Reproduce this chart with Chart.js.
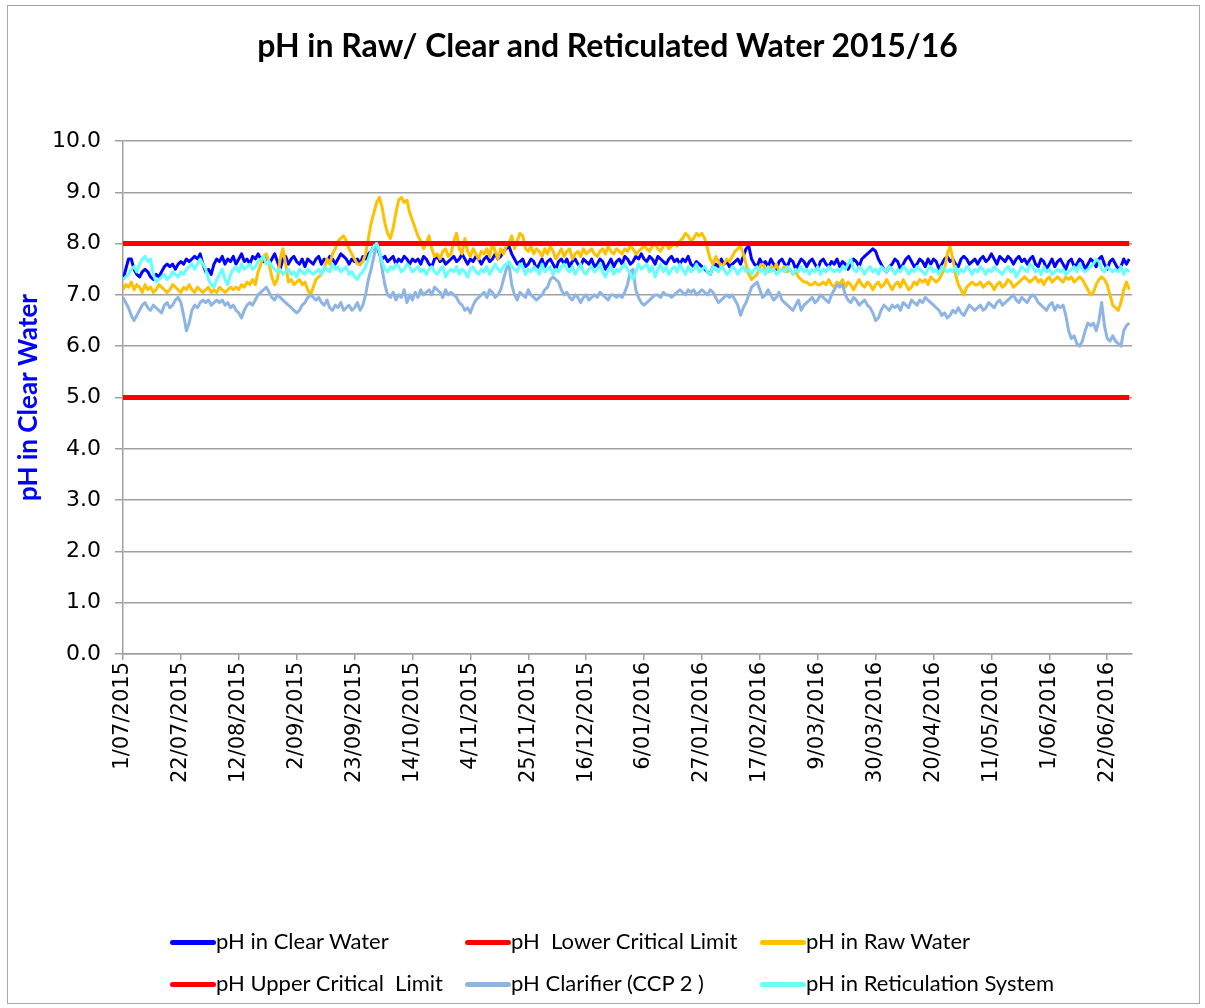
<!DOCTYPE html>
<html>
<head>
<meta charset="utf-8">
<script src="https://cdn.jsdelivr.net/npm/chart.js@4.4.1/dist/chart.umd.min.js"></script>
<style>
  body { margin: 0; background: #fff; }
  #wrap { position: relative; width: 1205px; height: 1008px; overflow: hidden; }
  #frame { position: absolute; left: 7px; top: 5px; width: 1191px; height: 997px; border: 1px solid #a6a6a6; }
  #chart { position: absolute; left: 0; top: 0; }
  #title { position: absolute; left: 0; width: 1215px; top: 25px; text-align: center;
           font: bold 32px Lato, "Noto Sans", sans-serif; color: #000; }
  .lg { position: absolute; font: 22px Lato, "Noto Sans", sans-serif; color: #000; white-space: pre; line-height: 24px; }
  .lg i { display: inline-block; width: 46px; height: 5px; border-radius: 3px; vertical-align: middle; margin-right: 0; position: relative; top: -1px; }
</style>
</head>
<body>
<div id="wrap">
  <div id="frame"></div>
  <canvas id="chart" width="1205" height="1008"></canvas>
  <div id="title">pH in Raw/ Clear and Reticulated Water 2015/16</div>
  <div id="legend"></div>
</div>
<script>
// daily readings, 1 July 2015 .. 30 June 2016 (366 days)
const tickLabels = ["1/07/2015", "22/07/2015", "12/08/2015", "2/09/2015", "23/09/2015", "14/10/2015",
  "4/11/2015", "25/11/2015", "16/12/2015", "6/01/2016", "27/01/2016", "17/02/2016", "9/03/2016",
  "30/03/2016", "20/04/2016", "11/05/2016", "1/06/2016", "22/06/2016"];
const yTicks = [0, 1, 2, 3, 4, 5, 6, 7, 8, 9, 10];

const lowerLimit = 5.0;
const upperLimit = 8.0;

const clearWater = [
  7.3,7.5,7.7,7.7,7.5,7.4,7.35,7.45,7.5,7.45,
  7.35,7.3,7.4,7.35,7.45,7.55,7.6,7.55,7.6,7.5,
  7.6,7.65,7.6,7.7,7.65,7.7,7.75,7.7,7.8,7.6,
  7.45,7.5,7.4,7.6,7.7,7.65,7.75,7.6,7.7,7.65,
  7.75,7.6,7.7,7.8,7.65,7.7,7.6,7.75,7.7,7.8,
  7.7,7.65,7.75,7.6,7.7,7.8,7.65,7.5,7.7,7.75,
  7.6,7.7,7.75,7.65,7.6,7.7,7.55,7.7,7.65,7.6,
  7.7,7.75,7.6,7.7,7.65,7.75,7.7,7.6,7.7,7.8,
  7.75,7.7,7.6,7.7,7.65,7.7,7.6,7.75,7.7,7.8,
  7.85,7.95,8.0,7.8,7.7,7.75,7.65,7.7,7.75,7.6,
  7.7,7.65,7.75,7.7,7.6,7.7,7.65,7.7,7.6,7.75,
  7.7,7.6,7.55,7.7,7.75,7.65,7.7,7.6,7.65,7.7,
  7.75,7.65,7.7,7.8,7.7,7.6,7.7,7.65,7.75,7.7,
  7.6,7.7,7.75,7.65,7.7,7.8,7.7,7.75,7.85,7.9,
  7.95,7.8,7.7,7.6,7.65,7.7,7.55,7.6,7.7,7.65,
  7.5,7.6,7.7,7.55,7.65,7.7,7.6,7.5,7.65,7.7,
  7.6,7.7,7.55,7.65,7.7,7.6,7.55,7.7,7.65,7.6,
  7.7,7.55,7.6,7.7,7.65,7.5,7.6,7.7,7.55,7.65,
  7.7,7.6,7.75,7.7,7.6,7.65,7.75,7.7,7.8,7.7,
  7.65,7.75,7.7,7.6,7.75,7.7,7.65,7.6,7.7,7.75,
  7.65,7.7,7.6,7.7,7.65,7.75,7.6,7.55,7.65,7.6,
  7.55,7.5,7.45,7.4,7.55,7.6,7.55,7.7,7.6,7.65,
  7.55,7.6,7.65,7.7,7.6,7.75,7.9,7.95,7.7,7.6,
  7.55,7.7,7.6,7.65,7.55,7.7,7.6,7.5,7.65,7.7,
  7.6,7.55,7.7,7.65,7.5,7.6,7.7,7.65,7.55,7.65,
  7.7,7.6,7.5,7.65,7.7,7.6,7.55,7.65,7.6,7.7,
  7.55,7.65,7.6,7.5,7.6,7.7,7.65,7.55,7.7,7.75,
  7.8,7.85,7.9,7.85,7.7,7.6,7.5,7.45,7.55,7.6,
  7.7,7.65,7.5,7.6,7.7,7.75,7.65,7.55,7.6,7.7,
  7.65,7.55,7.7,7.6,7.7,7.65,7.5,7.6,7.7,7.75,
  7.65,7.7,7.6,7.55,7.7,7.75,7.7,7.6,7.65,7.7,
  7.6,7.7,7.75,7.65,7.7,7.8,7.7,7.6,7.75,7.7,
  7.65,7.75,7.7,7.6,7.7,7.75,7.65,7.7,7.6,7.7,
  7.75,7.6,7.55,7.7,7.65,7.5,7.6,7.7,7.55,7.65,
  7.7,7.6,7.5,7.65,7.7,7.55,7.6,7.7,7.65,7.5,
  7.6,7.7,7.65,7.55,7.7,7.75,7.6,7.5,7.65,7.7,
  7.6,7.5,7.55,7.7,7.6,7.7
];

const rawWater = [
  7.1,7.2,7.15,7.25,7.1,7.2,7.15,7.05,7.2,7.1,
  7.15,7.05,7.1,7.2,7.15,7.1,7.05,7.1,7.2,7.15,
  7.1,7.05,7.15,7.1,7.2,7.1,7.05,7.15,7.1,7.05,
  7.1,7.15,7.05,7.1,7.05,7.15,7.1,7.05,7.1,7.15,
  7.1,7.15,7.1,7.2,7.15,7.25,7.2,7.3,7.2,7.45,
  7.6,7.75,7.8,7.6,7.35,7.2,7.3,7.7,7.9,7.6,
  7.25,7.3,7.2,7.25,7.3,7.2,7.25,7.1,7.0,7.15,
  7.3,7.35,7.4,7.5,7.7,7.6,7.8,7.9,8.05,8.1,
  8.15,8.05,7.9,7.8,7.7,7.6,7.6,7.65,7.8,8.1,
  8.4,8.6,8.8,8.9,8.7,8.4,8.2,8.1,8.3,8.6,
  8.85,8.9,8.8,8.85,8.6,8.45,8.3,8.15,8.05,7.9,
  8.0,8.15,7.9,7.75,7.8,7.7,7.85,7.9,7.75,7.8,
  8.05,8.2,7.9,7.8,8.1,7.85,7.75,7.9,7.8,7.7,
  7.85,7.8,7.9,7.75,8.0,7.85,7.7,7.9,7.8,7.95,
  8.0,8.15,7.9,8.05,8.2,8.15,7.9,7.85,7.95,7.8,
  7.9,7.85,7.75,7.9,7.8,7.95,7.85,7.7,7.8,7.9,
  7.75,7.85,7.9,7.7,7.8,7.85,7.75,7.9,7.8,7.85,
  7.9,7.8,7.75,7.85,7.9,7.8,7.95,7.85,7.8,7.9,
  7.85,7.8,7.9,7.85,7.95,7.9,7.8,7.85,7.9,7.95,
  7.9,7.85,7.95,8.0,7.9,7.85,7.95,8.0,7.9,7.95,
  8.0,7.95,8.05,8.1,8.2,8.15,8.05,8.1,8.2,8.15,
  8.2,8.1,7.9,7.7,7.6,7.75,7.65,7.55,7.6,7.7,
  7.65,7.75,7.85,7.9,7.95,7.8,7.6,7.4,7.3,7.35,
  7.4,7.55,7.6,7.5,7.45,7.55,7.5,7.6,7.45,7.5,
  7.55,7.45,7.5,7.4,7.45,7.35,7.3,7.25,7.25,7.2,
  7.2,7.25,7.2,7.2,7.25,7.2,7.3,7.2,7.15,7.25,
  7.2,7.3,7.15,7.25,7.2,7.1,7.2,7.3,7.2,7.15,
  7.25,7.2,7.1,7.2,7.25,7.15,7.2,7.3,7.2,7.1,
  7.2,7.25,7.15,7.3,7.2,7.1,7.15,7.25,7.2,7.3,
  7.25,7.3,7.2,7.35,7.3,7.25,7.3,7.4,7.5,7.8,
  7.95,7.7,7.4,7.2,7.1,7.0,7.15,7.2,7.25,7.2,
  7.2,7.25,7.15,7.2,7.25,7.2,7.1,7.2,7.25,7.15,
  7.2,7.3,7.25,7.15,7.2,7.25,7.3,7.35,7.3,7.25,
  7.3,7.35,7.25,7.3,7.2,7.3,7.35,7.25,7.3,7.35,
  7.3,7.25,7.35,7.3,7.35,7.25,7.3,7.35,7.3,7.2,
  7.1,7.0,7.05,7.2,7.3,7.35,7.3,7.2,7.0,6.8,
  6.75,6.7,6.85,7.1,7.25,7.1
];

const clarifier = [
  6.95,6.85,6.75,6.6,6.5,6.6,6.7,6.8,6.85,6.75,
  6.7,6.8,6.75,6.7,6.65,6.8,6.85,6.75,6.8,6.9,
  6.95,6.85,6.6,6.3,6.45,6.7,6.8,6.75,6.85,6.9,
  6.85,6.9,6.8,6.85,6.9,6.85,6.9,6.8,6.85,6.75,
  6.8,6.7,6.65,6.55,6.7,6.8,6.85,6.8,6.9,7.0,
  7.05,7.1,7.15,7.05,6.95,6.9,7.0,6.95,6.9,6.85,
  6.8,6.75,6.7,6.65,6.7,6.8,6.85,6.95,7.0,6.95,
  6.9,6.95,6.85,6.8,6.9,6.75,6.7,6.8,6.75,6.85,
  6.7,6.75,6.8,6.7,6.75,6.85,6.7,6.8,7.0,7.3,
  7.5,7.75,8.0,7.85,7.5,7.2,7.0,6.95,7.05,6.9,
  7.0,6.95,7.1,6.85,7.0,6.9,7.05,6.95,7.1,7.0,
  7.05,7.1,7.0,7.15,7.1,7.05,6.95,7.1,7.0,7.05,
  7.0,6.95,6.85,6.8,6.7,6.75,6.65,6.8,6.9,6.95,
  7.0,7.05,6.95,7.1,7.05,6.95,7.0,7.1,7.3,7.5,
  7.6,7.2,7.0,6.9,7.05,7.0,6.95,7.1,7.0,6.95,
  6.9,6.95,7.0,7.1,7.15,7.3,7.35,7.3,7.25,7.1,
  7.0,7.05,6.95,6.9,7.0,6.95,6.85,6.95,7.0,6.9,
  6.95,7.0,6.95,7.05,7.0,6.95,6.9,7.0,7.0,6.95,
  7.0,6.95,7.05,7.2,7.45,7.5,7.1,6.95,6.85,6.8,
  6.85,6.9,6.95,7.0,7.0,6.95,7.05,7.0,7.0,6.95,
  7.0,7.05,7.1,7.05,7.0,7.1,7.05,7.1,7.0,7.05,
  7.1,7.05,7.0,7.1,7.05,6.95,6.85,6.9,6.95,7.0,
  6.95,7.0,6.9,6.8,6.6,6.75,6.85,7.0,7.15,7.2,
  7.25,7.1,6.95,7.0,7.1,7.0,6.9,6.95,7.05,6.9,
  6.85,6.8,6.75,6.7,6.8,6.9,6.7,6.8,6.85,6.9,
  6.95,6.85,6.9,7.0,6.95,6.9,6.85,7.0,7.1,7.2,
  7.15,7.2,7.0,6.9,6.85,6.95,6.9,6.8,6.85,6.9,
  6.8,6.75,6.65,6.5,6.55,6.7,6.8,6.75,6.7,6.8,
  6.75,6.8,6.7,6.85,6.8,6.75,6.9,6.85,6.8,6.9,
  6.85,6.95,6.9,6.85,6.8,6.75,6.7,6.6,6.65,6.55,
  6.6,6.7,6.65,6.75,6.65,6.6,6.7,6.8,6.75,6.7,
  6.75,6.8,6.7,6.75,6.85,6.8,6.75,6.85,6.9,6.8,
  6.85,6.9,6.95,7.0,6.9,6.85,6.95,6.9,6.85,6.95,
  7.0,6.95,6.85,6.8,6.75,6.7,6.8,6.85,6.7,6.8,
  6.75,6.8,6.6,6.3,6.15,6.2,6.05,6.0,6.1,6.3,
  6.45,6.4,6.45,6.3,6.5,6.85,6.4,6.15,6.1,6.2,
  6.1,6.05,6.0,6.3,6.4,6.45
];

const reticulation = [
  7.3,7.35,7.4,7.5,7.55,7.45,7.6,7.7,7.75,7.65,
  7.7,7.4,7.25,7.3,7.35,7.4,7.3,7.35,7.45,7.4,
  7.35,7.45,7.4,7.5,7.55,7.6,7.5,7.6,7.7,7.6,
  7.5,7.3,7.2,7.15,7.3,7.4,7.5,7.3,7.2,7.4,
  7.5,7.55,7.45,7.6,7.5,7.55,7.6,7.5,7.55,7.65,
  7.7,7.75,7.6,7.65,7.55,7.5,7.45,7.5,7.4,7.45,
  7.5,7.4,7.45,7.35,7.5,7.45,7.4,7.5,7.45,7.4,
  7.45,7.5,7.4,7.55,7.5,7.45,7.6,7.5,7.55,7.45,
  7.5,7.55,7.4,7.45,7.35,7.3,7.4,7.45,7.55,7.7,
  7.85,7.95,8.0,7.85,7.65,7.5,7.45,7.55,7.5,7.6,
  7.55,7.45,7.5,7.6,7.55,7.45,7.5,7.55,7.45,7.5,
  7.4,7.5,7.55,7.45,7.4,7.5,7.55,7.35,7.45,7.5,
  7.45,7.55,7.4,7.5,7.45,7.35,7.5,7.55,7.45,7.4,
  7.5,7.45,7.55,7.4,7.5,7.6,7.5,7.45,7.55,7.6,
  7.65,7.55,7.5,7.45,7.6,7.55,7.4,7.5,7.45,7.55,
  7.5,7.4,7.6,7.45,7.5,7.55,7.4,7.5,7.45,7.55,
  7.6,7.5,7.45,7.55,7.4,7.5,7.6,7.45,7.4,7.5,
  7.55,7.45,7.5,7.6,7.45,7.35,7.5,7.55,7.4,7.5,
  7.45,7.55,7.6,7.5,7.4,7.3,7.45,7.6,7.5,7.55,
  7.6,7.45,7.55,7.35,7.5,7.6,7.45,7.55,7.4,7.5,
  7.55,7.45,7.6,7.5,7.4,7.55,7.45,7.5,7.6,7.45,
  7.5,7.55,7.45,7.4,7.55,7.5,7.45,7.55,7.5,7.4,
  7.45,7.55,7.5,7.4,7.5,7.55,7.45,7.5,7.4,7.5,
  7.55,7.45,7.5,7.4,7.55,7.45,7.5,7.4,7.45,7.5,
  7.45,7.55,7.5,7.4,7.5,7.45,7.55,7.45,7.5,7.4,
  7.5,7.45,7.55,7.4,7.5,7.45,7.55,7.5,7.45,7.5,
  7.45,7.55,7.5,7.6,7.7,7.5,7.45,7.55,7.5,7.4,
  7.5,7.55,7.45,7.5,7.4,7.55,7.5,7.45,7.55,7.5,
  7.4,7.5,7.45,7.55,7.5,7.4,7.5,7.45,7.55,7.5,
  7.45,7.4,7.5,7.55,7.45,7.5,7.4,7.55,7.5,7.45,
  7.5,7.45,7.55,7.4,7.5,7.45,7.55,7.5,7.4,7.5,
  7.45,7.55,7.5,7.4,7.5,7.45,7.55,7.5,7.45,7.4,
  7.5,7.55,7.45,7.5,7.35,7.45,7.55,7.5,7.45,7.6,
  7.55,7.45,7.5,7.4,7.55,7.45,7.5,7.4,7.45,7.5,
  7.45,7.5,7.4,7.45,7.5,7.55,7.45,7.6,7.5,7.45,
  7.5,7.55,7.6,7.7,7.65,7.5,7.45,7.55,7.5,7.45,
  7.5,7.45,7.55,7.4,7.5,7.45
];

function pts(arr) {
  return arr.map((v, i) => ({ x: i, y: v }));
}
function flat(v) {
  return clearWater.map((_, i) => ({ x: i, y: v }));
}

const series = [
  { label: "pH in Clear Water", data: pts(clearWater), color: "#0000ff", w: 3 },
  { label: "pH  Lower Critical Limit", data: flat(lowerLimit), color: "#ff0000", w: 5 },
  { label: "pH in Raw Water", data: pts(rawWater), color: "#ffc000", w: 3 },
  { label: "pH Upper Critical  Limit", data: flat(upperLimit), color: "#ff0000", w: 5 },
  { label: "pH Clarifier (CCP 2 )", data: pts(clarifier), color: "#8eb4e3", w: 3 },
  { label: "pH in Reticulation System", data: pts(reticulation), color: "#66ffff", w: 3 }
];

// later series on top, like the original spreadsheet
const datasets = series.map((s, i) => ({
  label: s.label,
  data: s.data,
  borderColor: s.color,
  backgroundColor: s.color,
  borderWidth: s.w,
  pointRadius: 0,
  tension: 0,
  borderJoinStyle: "round",
  fill: false,
  order: series.length - i
}));

const gridGrey = "#a0a0a0";
const tickFamily = "'DejaVu Sans', Verdana, sans-serif";

new Chart(document.getElementById("chart"), {
  type: "line",
  data: { datasets: datasets },
  options: {
    responsive: false,
    animation: false,
    devicePixelRatio: 1,
    layout: { padding: { left: 0, top: 141, right: 73, bottom: 0 } },
    plugins: { legend: { display: false }, tooltip: { enabled: false }, title: { display: false } },
    scales: {
      x: {
        type: "linear",
        min: 0,
        max: 366,
        afterFit: (s) => { s.height = 354; },
        afterBuildTicks: (s) => { s.ticks = tickLabels.map((_, i) => ({ value: i * 21 })); },
        ticks: {
          autoSkip: false,
          minRotation: 90,
          maxRotation: 90,
          padding: 2,
          color: "#000",
          font: { family: tickFamily, size: 21 },
          callback: (v) => tickLabels[Math.round(v / 21)] || ""
        },
        grid: { drawOnChartArea: false, drawTicks: true, tickLength: 6, color: gridGrey, lineWidth: 1.5 },
        border: { color: gridGrey, width: 1.5 }
      },
      y: {
        min: 0,
        max: 10,
        afterFit: (s) => { s.width = 123; },
        afterBuildTicks: (s) => { s.ticks = yTicks.map((v) => ({ value: v })); },
        ticks: { padding: 14, color: "#000", font: { family: tickFamily, size: 22 }, callback: (v) => v.toFixed(1) },
        grid: { color: gridGrey, lineWidth: 1.5, tickLength: 8 },
        border: { color: gridGrey, width: 1.5 },
        title: {
          display: true,
          text: "pH in Clear Water",
          color: "#0000ff",
          font: { family: "Lato, 'Noto Sans', sans-serif", size: 26, weight: "bold" },
          padding: { top: 13, bottom: 0 }
        }
      }
    }
  }
});

// legend: three columns, two rows
const legendCols = [170, 465, 760];
const legendRows = [929, 971];
const legendEl = document.getElementById("legend");
series.forEach((s, i) => {
  const d = document.createElement("div");
  d.className = "lg";
  d.style.left = legendCols[i % 3] + "px";
  d.style.top = legendRows[Math.floor(i / 3)] + "px";
  d.innerHTML = '<i style="background:' + s.color + '"></i>';
  d.appendChild(document.createTextNode(s.label));
  legendEl.appendChild(d);
});
</script>
</body>
</html>
